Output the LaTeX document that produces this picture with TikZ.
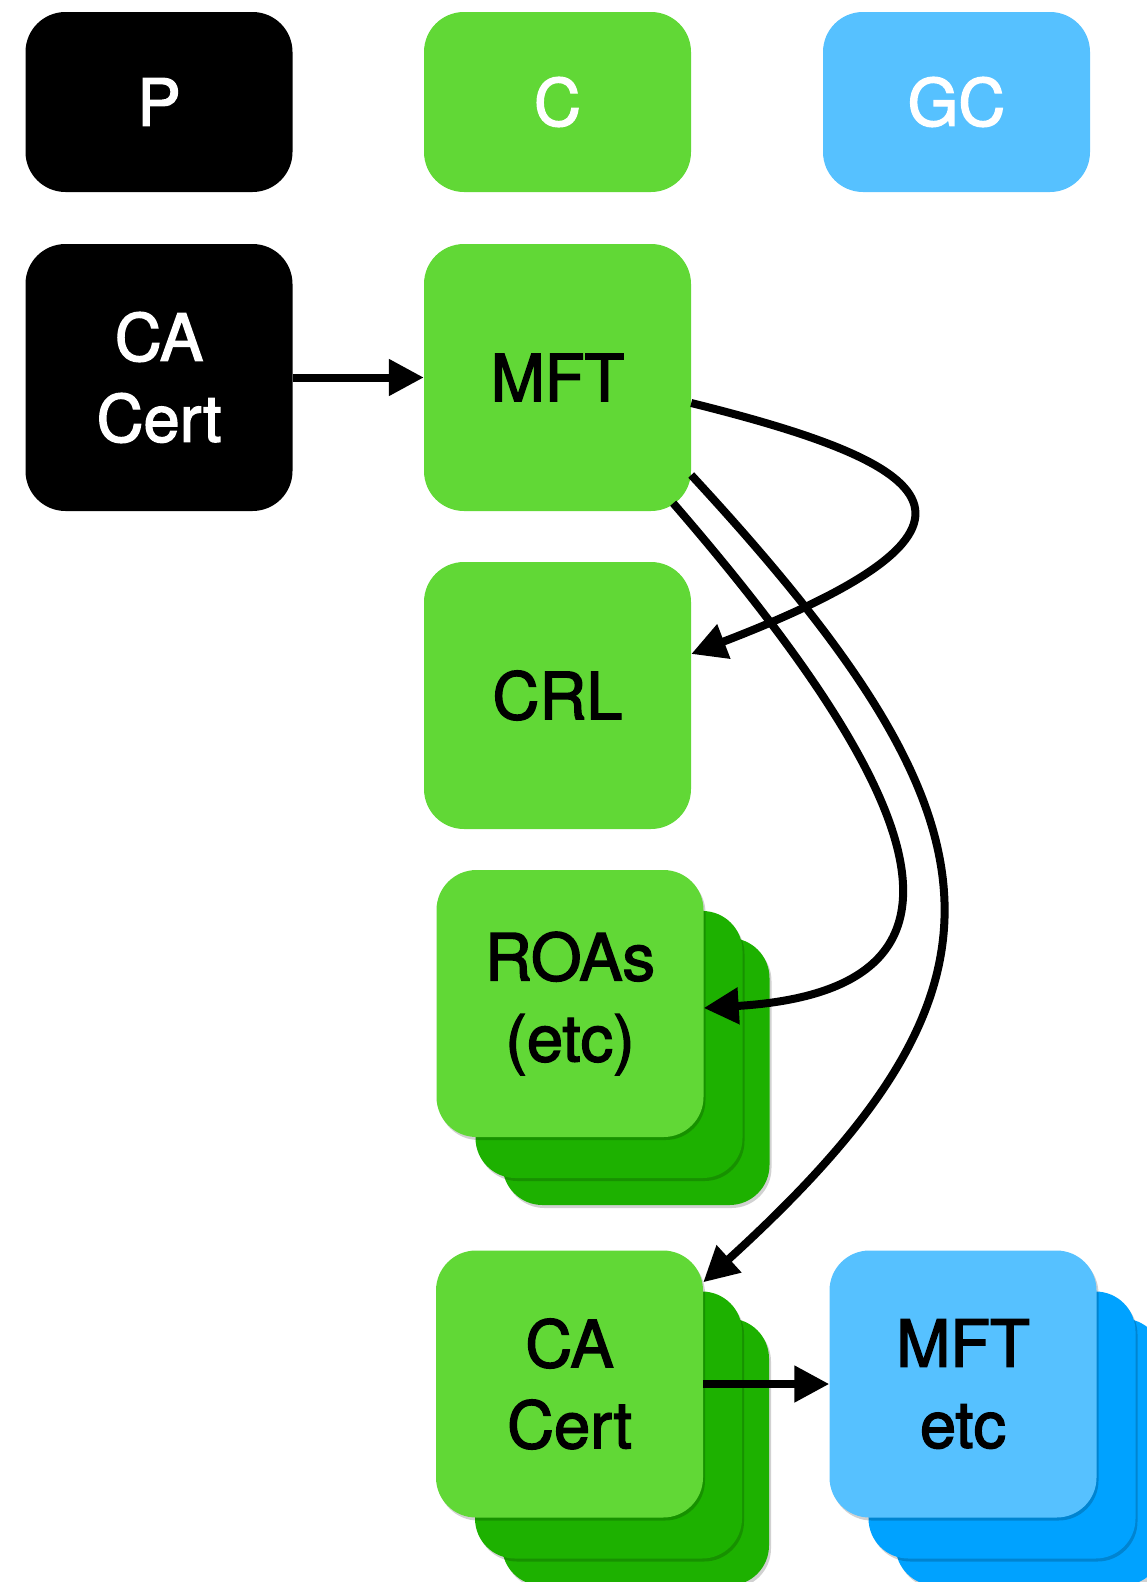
\documentclass[tikz,border=0pt]{standalone}
\usepackage{fontspec}
\setmainfont{TeX Gyre Heros}
\newfontfamily\medfont[FakeBold=2.2]{TeX Gyre Heros}
\usetikzlibrary{arrows.meta,calc,shadows}
\definecolor{kgreen}{HTML}{61D836}
\definecolor{kdgreen}{HTML}{1DB100}
\definecolor{kblue}{HTML}{56C1FF}
\definecolor{kdblue}{HTML}{00A2FF}
\begin{document}
\begin{tikzpicture}[x=1pt,y=-1pt,
  card/.style={rounded corners=40pt, minimum width=267pt, minimum height=267pt, inner sep=0pt,
    align=center, font=\medfont\fontsize{65}{81}\selectfont},
  hdr/.style={card, minimum height=180pt, text=white},
  shad/.style={drop shadow={shadow xshift=2pt, shadow yshift=-3pt, opacity=0.18, fill=black}},
  conn/.style={line width=8pt, -{Triangle[length=35pt,width=35pt]}}
]
\useasboundingbox (0,0) rectangle (1147,1582);
% header
\node[hdr, fill=black] (p) at (159,102) {P};
\node[hdr, fill=kgreen] (c) at (557.5,102) {C};
\node[hdr, fill=kblue] (gc) at (956.5,102) {GC};
% row 2
\node[card, fill=black, text=white] (ca) at (159,377.5) {CA\\Cert};
\node[card, fill=kgreen] (mft) at (557.5,377.5) {MFT};
\node[card, fill=kgreen] (crl) at (557.5,695.5) {CRL};
% ROAs stack
\node[card, fill=kdgreen, shad] (roa3) at (636,1071.5) {};
\node[card, fill=kdgreen, shad] (roa2) at (609,1044.5) {};
\node[card, fill=kgreen, shad] (roa) at (570,1003.5) {ROAs\\(etc)};
% CA Cert stack
\node[card, fill=kdgreen, shad] (cc3) at (635.5,1452) {};
\node[card, fill=kdgreen, shad] (cc2) at (608.5,1425) {};
\node[card, fill=kgreen, shad] (cc) at (569.5,1384) {CA\\Cert};
% MFT etc stack
\node[card, fill=kdblue, shad] (me3) at (1029,1452) {};
\node[card, fill=kdblue, shad] (me2) at (1002,1425) {};
\node[card, fill=kblue, shad] (me) at (963,1384) {MFT\\etc};
% connectors
\draw[conn] (ca.east) -- (mft.west);
\draw[conn] (cc.east) -- (me.west);
\draw[conn] ($(mft.east)+(0,25.5)$) .. controls (920,460) and (1040,520) .. ($(crl.east)+(0,-41.5)$);
\draw[conn] ($(mft.south east)+(-18,-8)$) .. controls (930,800) and (1000,990) .. ($(roa.east)+(0,4.5)$);
\draw[conn] ($(mft.east)+(0,97.5)$) .. controls (1015,825) and (1030,985) .. ($(cc.north east)+(0,32)$);
\end{tikzpicture}
\end{document}
